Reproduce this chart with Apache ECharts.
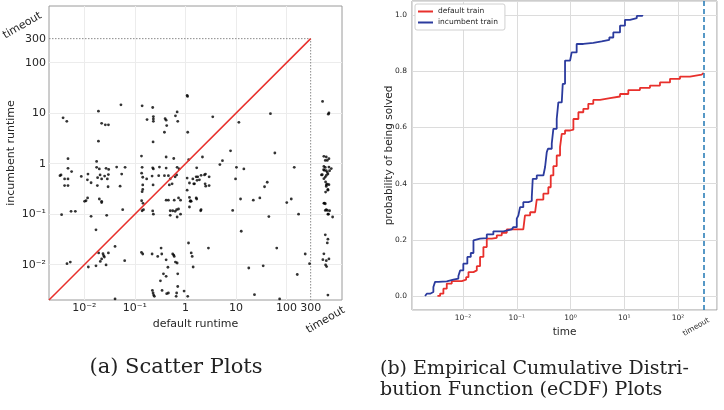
<!DOCTYPE html>
<html><head><meta charset="utf-8">
<script src="https://cdn.jsdelivr.net/npm/echarts@6/dist/echarts.min.js"></script>
<style>html,body{margin:0;padding:0;background:#fff}#c{width:724px;height:410px}</style>
</head><body><div id="c"></div>
<script>
// ---- scatter (a): [default runtime, incumbent runtime] ----
const scatterPoints = [
[0.0038,8.1],[0.0045,6.9],[0.019,11],[0.022,6.3],[0.026,5.9],[0.030,5.9],[0.053,14.7],[0.019,2.8],[0.139,14],[0.225,13],[0.174,7.5],[0.232,8.6],[0.232,7.7],[0.232,6.9],[0.396,7.8],[0.415,7.3],[0.426,5.7],[0.634,8.9],[0.685,10.6],[0.704,6.9],[0.384,4.2],[0.229,2.7],[1.11,4.2],[1.08,22.5],[1.1,21.5],[3.47,8.5],[11.4,6.6],[48,9.8],[7.8,1.8],[58.7,1.63],
[516,17.1],[689,10.1],[670,9.6],
[0.00475,1.26],[0.0175,1.11],[0.135,1.42],[0.415,1.36],[0.587,1.27],[2.17,1.36],[5.4,1.15],[4.8,0.96],[1.67,0.83],[10.2,0.85],[14.3,0.79],[142,0.85],[1.16,1.2],
[1.75,0.55],[2.04,0.59],[2.38,0.6],[2.49,0.625],[2.94,0.55],[1.89,0.48],[1.51,0.4],[2.45,0.4],[2.52,0.36],[2.94,0.37],[9.8,0.5],[41.5,0.43],[36.7,0.35],
[1.67,0.2],[12.3,0.2],[22,0.19],[29.6,0.21],[101,0.17],[124,0.2],
[548,1.4],[611,1.36],[689,1.26],[640,1.16],[584,1.16],
[548,0.885],[584,0.845],[689,0.86],[767,0.8],[541,0.76],[611,0.726],[710,0.726],[640,0.673],[658,0.625],[509,0.605],[611,0.586],[584,0.545],[548,0.505],[592,0.435],[640,0.396],[689,0.384],[611,0.355],[658,0.31],[592,0.275],[548,0.164],[584,0.161],
[560,0.74],[490,0.6],[611,0.38],[658,0.3],[560,0.166],[611,0.123],[710,0.117],[658,0.1],[584,0.119],[640,0.119],[675,0.1],[815,0.088],
[0.00475,0.81],[0.0175,0.85],[0.0198,0.79],[0.0269,0.81],[0.0303,0.77],[0.0436,0.86],[0.064,0.85],[0.139,0.85],[0.225,0.83],[0.232,0.79],[0.306,0.86],[0.415,0.82],[0.685,0.85],[0.75,0.79],
[0.00346,0.6],[0.0033,0.58],[0.00407,0.5],[0.00475,0.5],[0.0056,0.7],[0.0087,0.56],[0.0118,0.625],[0.0115,0.48],[0.0136,0.42],[0.0183,0.53],[0.0205,0.6],[0.022,0.5],[0.0252,0.57],[0.0299,0.61],[0.0285,0.5],[0.0548,0.625],[0.136,0.65],[0.143,0.54],[0.171,0.5],[0.219,0.57],[0.296,0.58],[0.384,0.58],[0.46,0.58],[0.5,0.5],[0.625,0.55],[0.67,0.6],[1.08,0.52],[1.4,0.5],[1.63,0.55],[1.7,0.47],[1.2,0.415],[1.46,0.4],
[0.00407,0.37],[0.00475,0.37],[0.0181,0.37],[0.0295,0.35],[0.051,0.36],[0.143,0.38],[0.229,0.38],[0.48,0.38],[0.545,0.4],[0.143,0.31],[0.139,0.28],
[0.0116,0.21],[0.0108,0.185],[0.0101,0.18],[0.022,0.18],[0.0198,0.2],[0.022,0.17],[0.136,0.185],[0.145,0.164],[0.415,0.19],[0.46,0.19],[0.6,0.19],[0.73,0.21],[0.8,0.19],[1.26,0.185],[1.08,0.3],[1.2,0.215],[1.63,0.21],[1.3,0.18],
[0.00355,0.098],[0.00546,0.114],[0.00664,0.114],[0.0136,0.091],[0.0277,0.095],[0.0574,0.123],[0.139,0.117],[0.148,0.123],[0.225,0.116],[0.232,0.1],[0.5,0.117],[0.56,0.117],[0.625,0.114],[0.67,0.123],[0.73,0.127],[0.5,0.095],[0.685,0.088],[0.8,0.1],[1.2,0.139],[1.24,0.18],[2.0,0.117],[2.04,0.123],[8.6,0.119],[44.7,0.09],[173,0.1],
[0.017,0.049],[12.7,0.046],
[0.0405,0.023],[0.0192,0.0171],[0.0234,0.0165],[0.0241,0.0151],[0.022,0.013],[0.0207,0.0116],[0.0299,0.0171],[0.0269,0.0099],[0.0249,0.0142],[0.012,0.009],[0.017,0.0095],[0.00454,0.0105],[0.00528,0.0113],[0.0628,0.012],[0.135,0.0175],[0.143,0.0163],[0.219,0.0163],[0.33,0.0214],[0.283,0.0146],[0.34,0.0163],[0.56,0.0163],[0.587,0.0155],[0.6,0.0146],[0.415,0.0125],[0.634,0.0113],[0.685,0.0108],[0.45,0.0089],[0.704,0.0066],[0.367,0.0066],[0.32,0.0048],[0.415,0.0059],[1.15,0.0269],[1.3,0.0171],[1.36,0.0146],[1.42,0.009],[2.85,0.0214],[64,0.0214],[234,0.0163],[285,0.0105],[163,0.0064],[17.9,0.0086],[34.5,0.0095],
[0.704,0.0037],[0.345,0.0031],[0.426,0.00267],[0.46,0.00275],[0.67,0.00275],[0.655,0.00236],[0.222,0.0031],[0.229,0.00275],[0.235,0.0025],[0.243,0.00236],[0.94,0.003],[1.11,0.00236],[0.0405,0.0021],[23.2,0.00255],[73,0.0021],
[548,0.0164],[523,0.0126],[611,0.012],[689,0.013],[592,0.0099],[620,0.0092],[658,0.0025],[584,0.039],[658,0.032],[640,0.027]
];
const diagonal = [[0.002,0.002],[300,300]];
const timeoutBox = [[0.002,300],[300,300],[300,0.002]];
const gridDecades = [0.01,0.1,1,10,100];
const timeoutValue = 300;

// ---- eCDF (b): [time, probability] ----
const defaultTrain = [
[0.00333,0],[0.00373,0.008],[0.0043,0.026],[0.00497,0.044],[0.00616,0.053],[0.00946,0.058],[0.0114,0.067],[0.0126,0.085],[0.0156,0.091],[0.018,0.106],[0.0207,0.139],[0.0239,0.174],[0.0276,0.204],[0.0342,0.207],[0.0424,0.216],[0.0525,0.225],[0.065,0.237],[0.132,0.237],[0.142,0.287],[0.177,0.298],[0.219,0.298],[0.235,0.343],[0.312,0.364],[0.386,0.387],[0.428,0.429],[0.479,0.462],[0.553,0.5],[0.638,0.53],[0.686,0.577],[0.79,0.589],[0.98,0.592],[1.13,0.63],[1.4,0.654],[1.73,0.666],[2.14,0.684],[2.65,0.698],[3.54,0.704],[5.43,0.71],[8.33,0.719],[11.9,0.733],[19.6,0.741],[30.1,0.749],[46.2,0.76],[71,0.773],[109,0.781],[167,0.788],[276,0.794],[300,0.794]
];
const incumbentTrain = [
[0.00196,0],[0.00211,0.008],[0.00243,0.014],[0.0028,0.032],[0.00301,0.05],[0.00347,0.052],[0.00497,0.058],[0.0066,0.062],[0.00818,0.071],[0.0088,0.091],[0.0101,0.115],[0.012,0.139],[0.0139,0.153],[0.0156,0.198],[0.0167,0.204],[0.0207,0.206],[0.0276,0.219],[0.0366,0.23],[0.0562,0.237],[0.0805,0.24],[0.0863,0.245],[0.0998,0.275],[0.107,0.287],[0.115,0.316],[0.132,0.334],[0.164,0.338],[0.19,0.352],[0.198,0.417],[0.235,0.429],[0.312,0.435],[0.336,0.459],[0.361,0.512],[0.38,0.524],[0.447,0.542],[0.479,0.595],[0.553,0.63],[0.593,0.689],[0.686,0.695],[0.716,0.755],[0.79,0.838],[0.98,0.844],[1.05,0.867],[1.3,0.897],[1.73,0.901],[2.65,0.906],[3.8,0.912],[5.27,0.92],[6.25,0.938],[8.33,0.962],[10.3,0.983],[12.8,0.989],[17.1,0.997],[21.7,1.0]
];

const chart = echarts.init(document.getElementById('c'), null, {renderer:'canvas'});
const SUP = {'-':'\u207B','0':'\u2070','1':'\u00B9','2':'\u00B2','3':'\u00B3'};
function sup(e){ return String(e).split('').map(c => SUP[c]).join(''); }
function leftFmt(v){ const e = Math.round(Math.log10(v)); if (e > 2) return ''; if (e >= 0) return String(Math.pow(10, e)); return '10' + sup(e); }
function rightFmt(v){ const e = Math.round(Math.log10(v)); return '10' + sup(e); }
const FONT = 'DejaVu Sans';
const INK = '#262626';
const CLEAR = 'rgba(0,0,0,0)';

chart.setOption({
  backgroundColor: '#fff',
  animation: false,
  grid: [
    {left:49, top:6, width:293, height:294, show:true, borderColor:'#9a9a9a', borderWidth:1, backgroundColor:'#fff'},
    {left:412, top:1, width:305, height:309, show:true, borderColor:'#9a9a9a', borderWidth:1, backgroundColor:'#fff'}
  ],
  legend: {
    data: ['default train','incumbent train'], orient:'vertical', left:415, top:4,
    icon:'rect', itemWidth:15, itemHeight:2, itemGap:2,
    textStyle:{fontSize:7.5, color:INK, fontFamily:FONT, lineHeight:9},
    backgroundColor:'#fff', borderColor:'#d0d0d0', borderWidth:1, borderRadius:2, padding:[3,7,3,3]
  },
  xAxis: [
    {gridIndex:0, type:'log', min:0.002, max:1250, axisLine:{show:false}, axisTick:{show:false}, splitLine:{show:false},
     axisLabel:{formatter:leftFmt, showMinLabel:false, showMaxLabel:false, fontSize:11, color:INK, margin:3, fontFamily:FONT},
     name:'default runtime', nameLocation:'middle', nameGap:15, nameTextStyle:{fontSize:11, color:INK, fontFamily:FONT}},
    {gridIndex:1, type:'log', min:0.00112, max:532, axisLine:{show:false}, axisTick:{show:false},
     splitLine:{show:true, lineStyle:{color:'#dcdcdc', width:1}},
     axisLabel:{formatter:rightFmt, showMinLabel:false, showMaxLabel:false, fontSize:7.5, color:INK, margin:4, fontFamily:FONT},
     name:'time', nameLocation:'middle', nameGap:10, nameTextStyle:{fontSize:10.5, color:INK, fontFamily:FONT}}
  ],
  yAxis: [
    {gridIndex:0, type:'log', min:0.002, max:1330, axisLine:{show:false}, axisTick:{show:false}, splitLine:{show:false},
     axisLabel:{formatter:leftFmt, showMinLabel:false, showMaxLabel:false, fontSize:11, color:INK, margin:3, fontFamily:FONT},
     name:'incumbent runtime', nameLocation:'middle', nameGap:32, nameRotate:90, nameTextStyle:{fontSize:11, color:INK, fontFamily:FONT}},
    {gridIndex:1, type:'value', min:-0.05, max:1.05, axisLine:{show:false}, axisTick:{show:false},
     splitLine:{show:true, lineStyle:{color:'#dcdcdc', width:1}},
     axisLabel:{formatter:v => v.toFixed(1), showMinLabel:false, showMaxLabel:false, fontSize:7.5, color:INK, margin:5, fontFamily:FONT},
     name:'probability of being solved', nameLocation:'middle', nameGap:17, nameMoveOverlap:false, nameRotate:90, nameTextStyle:{fontSize:10.5, color:INK, fontFamily:FONT}}
  ],
  series: [
    {type:'line', name:'box', xAxisIndex:0, yAxisIndex:0, data:timeoutBox, showSymbol:false, silent:true, z:2,
     lineStyle:{color:'#8a8a8a', width:1, type:[1.5,1.5]},
     markLine:{silent:true, symbol:'none', animation:false, z:1,
       data: gridDecades.map(v => ({xAxis:v, lineStyle:{color:'#ececec', width:1, type:'solid'}, label:{show:false}}))
        .concat(gridDecades.map(v => ({yAxis:v, lineStyle:{color:'#ececec', width:1, type:'solid'}, label:{show:false}})))
        .concat([
          [{coord:[0.002,timeoutValue]},{coord:[timeoutValue,timeoutValue]}],
          [{coord:[timeoutValue,0.002]},{coord:[timeoutValue,timeoutValue]}]
        ].map(p => { p[0].lineStyle = {color:CLEAR, width:1, type:'solid'}; p[0].label = {show:true, position:'start', formatter:String(timeoutValue), fontSize:11, color:INK, fontFamily:FONT, distance:3}; return p; }))
     },
     markPoint:{silent:true, symbol:'circle', symbolSize:0, animation:false, z:6,
       data:[
         {coord:[0.002,650], label:{show:true, formatter:'timeout', rotate:30, offset:[-25,-10], fontSize:11, color:INK, fontFamily:FONT}},
         {coord:[560,0.002], label:{show:true, formatter:'timeout', rotate:30, offset:[-9,18], fontSize:11, color:INK, fontFamily:FONT}}
       ]}
    },
    {type:'scatter', name:'points', xAxisIndex:0, yAxisIndex:0, data:scatterPoints, symbolSize:2.8, itemStyle:{color:'#000'}, z:3, silent:true},
    {type:'line', name:'diag', xAxisIndex:0, yAxisIndex:0, data:diagonal, showSymbol:false, lineStyle:{color:'#e8302c', width:1.5}, z:4, silent:true},
    {type:'line', name:'default train', xAxisIndex:1, yAxisIndex:1, data:defaultTrain, step:'end', showSymbol:false, color:'#e8302c',
     lineStyle:{color:'#e8302c', width:1.8}, z:3,
     markLine:{silent:true, symbol:'none', animation:false, label:{show:false}, z:4,
       data:[{xAxis:timeoutValue}], lineStyle:{color:'#1f77b4', width:1.5, type:[5,3]}},
     markPoint:{silent:true, symbol:'circle', symbolSize:0, animation:false,
       data:[{coord:[timeoutValue,-0.05], label:{show:true, formatter:'timeout', rotate:30, offset:[-15,11], fontSize:7.5, color:INK, fontFamily:FONT}}]}
    },
    {type:'line', name:'incumbent train', xAxisIndex:1, yAxisIndex:1, data:incumbentTrain, step:'end', showSymbol:false, color:'#2b3b9e',
     lineStyle:{color:'#2b3b9e', width:1.8}, z:3}
  ],
  graphic: [
    {type:'text', x:176, y:368, style:{text:'(a) Scatter Plots', fontSize:21, fontFamily:'DejaVu Serif', fill:'#222', align:'center', verticalAlign:'middle'}},
    {type:'text', x:380, y:369, style:{text:'(b) Empirical Cumulative Distri-', fontSize:19, fontFamily:'DejaVu Serif', fill:'#222', align:'left', verticalAlign:'middle'}},
    {type:'text', x:380, y:390, style:{text:'bution Function (eCDF) Plots', fontSize:19, fontFamily:'DejaVu Serif', fill:'#222', align:'left', verticalAlign:'middle'}}
  ]
});
</script></body></html>
